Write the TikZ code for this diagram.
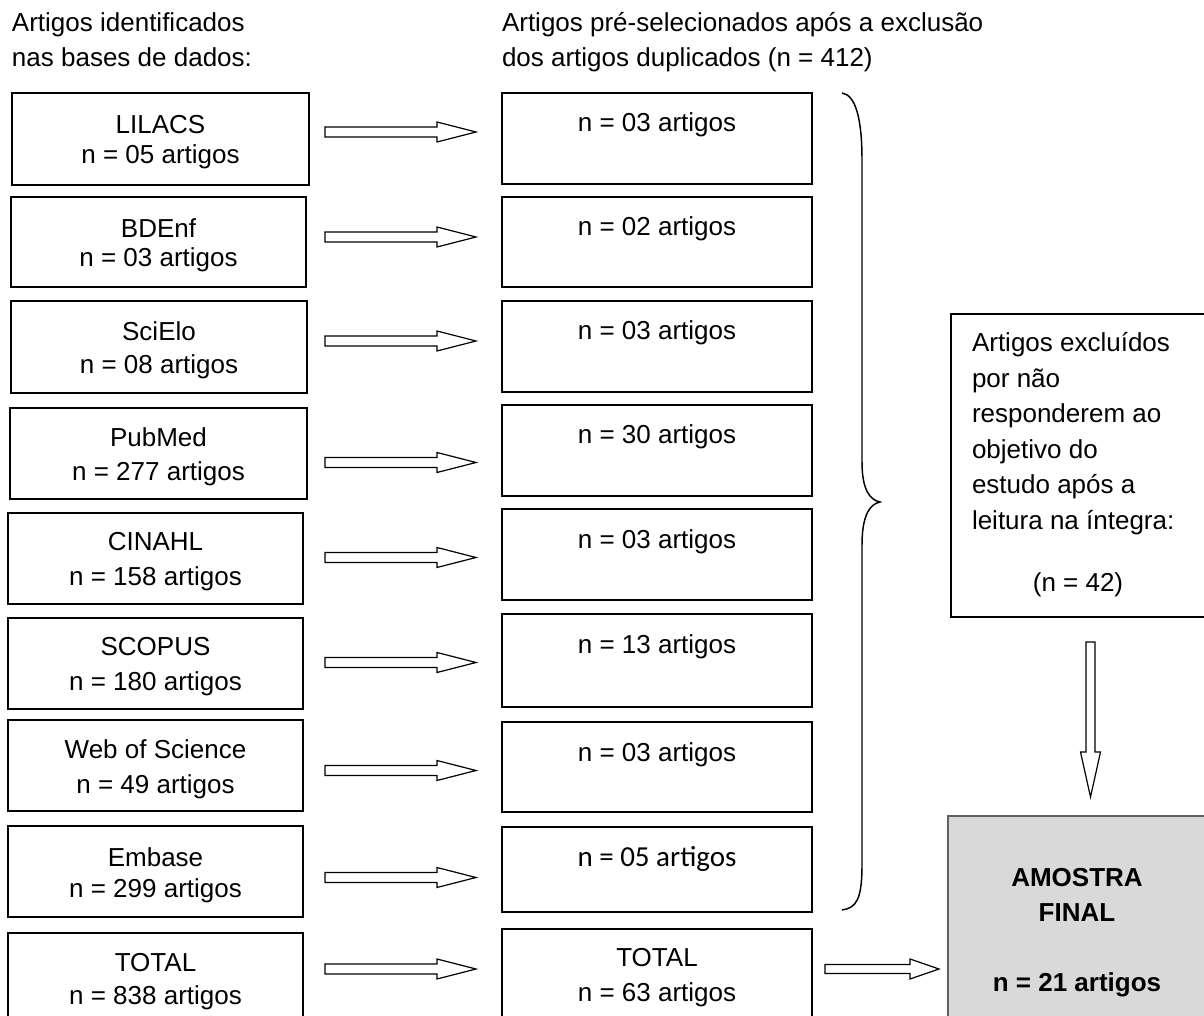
\documentclass[tikz,border=0pt]{standalone}
\usepackage{fontspec}
\setmainfont{Liberation Sans}
\newfontfamily\calibrifont{Carlito}
\usetikzlibrary{calc}

\tikzset{
  box/.style={draw=black, line width=1.2pt, inner sep=0pt, outer sep=0pt},
  boxtxt/.style={inner sep=0pt, outer sep=0pt, align=center, font=\fontsize{19.5}{24}\selectfont},
  txt/.style={inner sep=0pt, outer sep=0pt, anchor=base, font=\fontsize{19.5}{24}\selectfont},
  blockarr/.style={draw=black, line width=0.9pt, fill=white, line join=miter},
  bracestyle/.style={draw=black, line width=1.1pt},
  finalbox/.style={draw={rgb,255:red,96;green,96;blue,96}, line width=2pt,
    fill={rgb,255:red,217;green,217;blue,217}, inner sep=0pt, outer sep=0pt},
  boldtxt/.style={txt, font=\bfseries\fontsize{19.5}{24}\selectfont},
}

% \pbox[text opts]{name}{x1}{y1}{x2}{y2}{content}
\newcommand{\pbox}[7][]{%
  \node[box,minimum width={(#5-#3)*0.75pt}, minimum height={(#6-#4)*0.75pt}]
    (#2) at ({(#3+#5)/2},{(#4+#6)/2}) {};
  \node[boxtxt,#1] (#2t) at ($(#2.center)+(0,3.5)$) {#7};}

% \harrow{from}{to}{dy}{start offset}{tip gap}{head len}{shaft half}{head half}
\newcommand{\harrow}[8]{%
  \coordinate (hs) at ($(#2.west |- #1.east)+(-#4,#3)$);
  \coordinate (ht) at ($(#2.west |- #1.east)+(-#5,#3)$);
  \draw[blockarr] ($(hs)+(0,-#7)$) -- ($(ht)+(-#6,-#7)$) -- ($(ht)+(-#6,-#8)$) -- (ht)
    -- ($(ht)+(-#6,#8)$) -- ($(ht)+(-#6,#7)$) -- ($(hs)+(0,#7)$) -- cycle;}

\begin{document}
\begin{tikzpicture}[x=0.75pt,y=-0.75pt]
\useasboundingbox (0,0) rectangle (1204,1016);
\clip (0,0) rectangle (1204,1016);

% headers
\node[txt,anchor=base west] (h1a) at (12,31.5) {Artigos identificados};
\node[txt,anchor=base west] (h1b) at (12,66.5) {nas bases de dados:};
\node[txt,anchor=base west] (h2a) at (502,31.5) {Artigos pré-selecionados após a exclusão};
\node[txt,anchor=base west] (h2b) at (502,66.5) {dos artigos duplicados (n = 412)};

% left column
\pbox[font=\fontsize{19.5}{22.5}\selectfont]{l1}{12}{93}{309}{185}{LILACS\\n = 05 artigos}
\pbox[font=\fontsize{19.5}{21.75}\selectfont]{l2}{11}{197}{306}{287}{BDEnf\\n = 03 artigos}
\pbox[font=\fontsize{19.5}{24.75}\selectfont]{l3}{11}{301}{307}{393}{SciElo\\n = 08 artigos}
\pbox[font=\fontsize{19.5}{25.5}\selectfont]{l4}{10}{408}{307}{499}{PubMed\\n = 277 artigos}
\pbox[font=\fontsize{19.5}{26.25}\selectfont]{l5}{8}{513}{303}{604}{CINAHL\\n = 158 artigos}
\pbox[font=\fontsize{19.5}{26.25}\selectfont]{l6}{8}{618}{303}{709}{SCOPUS\\n = 180 artigos}
\pbox[font=\fontsize{19.5}{26.25}\selectfont]{l7}{8}{720}{303}{811}{Web of Science\\n = 49 artigos}
\pbox[font=\fontsize{19.5}{23.25}\selectfont]{l8}{8}{826}{303}{917}{Embase\\n = 299 artigos}
\pbox[font=\fontsize{19.5}{24.75}\selectfont]{l9}{8}{933}{303}{1023}{TOTAL\\n = 838 artigos}

% middle column
\pbox{m1}{502}{93}{812}{184}{}
\pbox{m2}{502}{197}{812}{287}{}
\pbox{m3}{502}{301}{812}{392}{}
\pbox{m4}{502}{405}{812}{496}{}
\pbox{m5}{502}{509}{812}{600}{}
\pbox{m6}{502}{614}{812}{707}{}
\pbox{m7}{502}{722}{812}{812}{}
\pbox{m8}{502}{827}{812}{912}{}
\pbox{m9}{502}{929}{812}{1020}{}

\node[txt] (m1n) at ($(m1.north)+(0,39)$) {n = 03 artigos};
\node[txt] (m2n) at ($(m2.north)+(0,39)$) {n = 02 artigos};
\node[txt] (m3n) at ($(m3.north)+(0,39)$) {n = 03 artigos};
\node[txt] (m4n) at ($(m4.north)+(0,39)$) {n = 30 artigos};
\node[txt] (m5n) at ($(m5.north)+(0,39)$) {n = 03 artigos};
\node[txt] (m6n) at ($(m6.north)+(0,39)$) {n = 13 artigos};
\node[txt] (m7n) at ($(m7.north)+(0,39)$) {n = 03 artigos};
\node[txt,font=\calibrifont\fontsize{21.75}{26}\selectfont] (m8n) at ($(m8.north)+(0,39)$) {n = 05 artigos};
\node[txt] (m9a) at ($(m9.north)+(0,37)$) {TOTAL};
\node[txt] (m9b) at ($(m9.north)+(0,72.5)$) {n = 63 artigos};

% brace
\draw[bracestyle] (842,93) .. controls (856,95) and (862,120) .. (862,160) -- (862,462)
  .. controls (862,490) and (870,500) .. (880,502)
  .. controls (870,504) and (862,515) .. (862,545) -- (862,865)
  .. controls (862,900) and (856,908) .. (842,910);

% excluded box
\node[box, line width=1.3pt, minimum width={255*0.75pt}, minimum height={303*0.75pt}] (ex) at (1078.5,465.5) {};
\node[txt,anchor=base west] (e1) at (972,351.5) {Artigos excluídos};
\node[txt,anchor=base west] (e2) at (972,387.1) {por não};
\node[txt,anchor=base west] (e3) at (972,422.7) {responderem ao};
\node[txt,anchor=base west] (e4) at (972,458.3) {objetivo do};
\node[txt,anchor=base west] (e5) at (972,493.9) {estudo após a};
\node[txt,anchor=base west] (e6) at (972,529.5) {leitura na íntegra:};
\node[txt] (e7) at (1078,591) {(n = 42)};

% final box
\node[finalbox, minimum width={258*0.75pt}, minimum height={227*0.75pt}] (am) at (1077,929.5) {};
\node[boldtxt] (am1) at (1077,886.3) {AMOSTRA};
\node[boldtxt] (am2) at (1077,921.3) {FINAL};
\node[boldtxt] (am3) at (1077,991.5) {n = 21 artigos};

% horizontal block arrows
\harrow{l1}{m1}{-7}{177}{26}{39}{5}{10}
\harrow{l2}{m2}{-5}{177}{26}{39}{5}{10}
\harrow{l3}{m3}{-6}{177}{26}{39}{5}{10}
\harrow{l4}{m4}{9}{177}{26}{39}{5}{10}
\harrow{l5}{m5}{-1}{177}{26}{39}{5}{10}
\harrow{l6}{m6}{-1}{177}{26}{39}{5}{10}
\harrow{l7}{m7}{5}{177}{26}{39}{5}{10}
\harrow{l8}{m8}{6}{177}{26}{39}{5}{10}
\harrow{l9}{m9}{-9}{177}{26}{39}{5}{10}
\harrow{m9}{am}{-5.5}{123}{9}{29}{4.5}{10}

% vertical block arrow
\coordinate (vs) at ($(ex.south)+(12,25)$);
\coordinate (vt) at ($(am.north -| vs)+(0,-19)$);
\draw[blockarr] ($(vs)+(-4.5,0)$) -- ($(vt)+(-4.5,-45)$) -- ($(vt)+(-10,-45)$) -- (vt)
  -- ($(vt)+(10,-45)$) -- ($(vt)+(4.5,-45)$) -- ($(vs)+(4.5,0)$) -- cycle;
\end{tikzpicture}
\end{document}
